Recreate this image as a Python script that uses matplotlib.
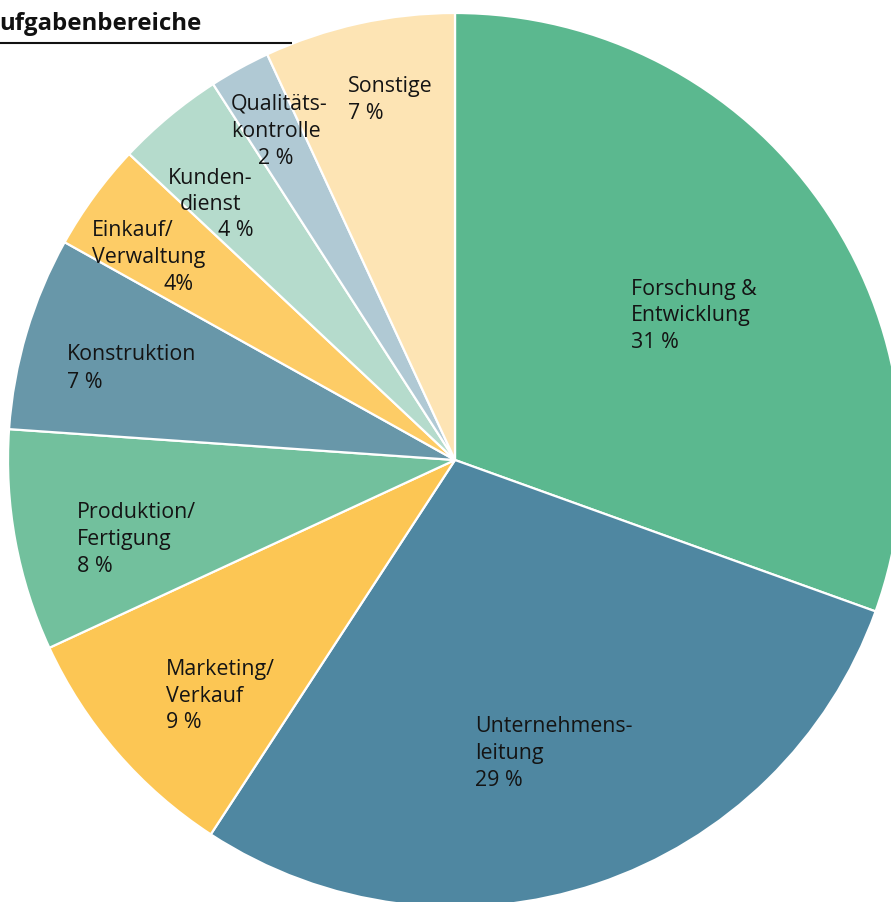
import matplotlib
matplotlib.use("Agg")
import matplotlib.pyplot as plt

plt.rcParams['font.family'] = ['Open Sans', 'DejaVu Sans']

categories = ["Forschung & Entwicklung", "Unternehmensleitung", "Marketing/Verkauf",
              "Produktion/Fertigung", "Konstruktion", "Einkauf/Verwaltung",
              "Kundendienst", "Qualitätskontrolle", "Sonstige"]
shares = [30.5, 28.7, 8.9, 8.0, 7.0, 3.9, 3.9, 2.2, 6.9]
colors = ["#5bb88f", "#4f87a1", "#fcc654", "#72c09d", "#6897a9",
          "#fdcc66", "#b5dbcc", "#b0c9d4", "#fde4b4"]

# label lines per slice (text, as shown)
label_lines = [
    ["Forschung &", "Entwicklung", "31 %"],
    ["Unternehmens-", "leitung", "29 %"],
    ["Marketing/", "Verkauf", "9 %"],
    ["Produktion/", "Fertigung", "8 %"],
    ["Konstruktion", "7 %"],
    ["Einkauf/", "Verwaltung", "4%"],
    ["Kunden-", "dienst", "4 %"],
    ["Qualitäts-", "kontrolle", "2 %"],
    ["Sonstige", "7 %"],
]
# layout: (x, y) in pixels for each line (left edge, vertical centre)
label_pos = [
    [(631, 287), (631, 313), (631, 341)],
    [(475, 725), (475, 752), (475, 779)],
    [(166, 668), (166, 694), (166, 721)],
    [(77, 510), (77, 537), (77, 564)],
    [(67, 353), (67, 380)],
    [(92, 229), (92, 256), (163, 283)],
    [(168, 176), (180, 202), (218, 229)],
    [(231, 102), (231, 129), (258, 156)],
    [(348, 84), (348, 111)],
]

W, H = 891, 903
fig = plt.figure(figsize=(W / 100, H / 100), dpi=100)
ax = fig.add_axes([0, 0, 1, 1])
ax.set_xlim(0, W)
ax.set_ylim(0, H)
ax.set_aspect('equal')
ax.axis('off')

cx, cy, r = 455, H - 461, 447
ax.pie(shares, colors=colors, startangle=90, counterclock=False,
       center=(cx, cy), radius=r, frame=True,
       wedgeprops=dict(edgecolor='white', linewidth=1.6))
ax.set_xlim(0, W)
ax.set_ylim(0, H)
ax.axis('off')

for lines, poss in zip(label_lines, label_pos):
    for t, (x, y) in zip(lines, poss):
        ax.text(x, H - y - 2, t, ha='left', va='center', fontsize=15.4, color='#141414')

# title and underline
ax.text(-1, H - 24, "ufgabenbereiche", ha='left', va='center', fontsize=17.3,
        fontweight='bold', color='#111111')
ax.plot([0, 292], [H - 43.5, H - 43.5], color='#111111', lw=1.5, solid_capstyle='butt')

fig.savefig("out.png", dpi=100)
